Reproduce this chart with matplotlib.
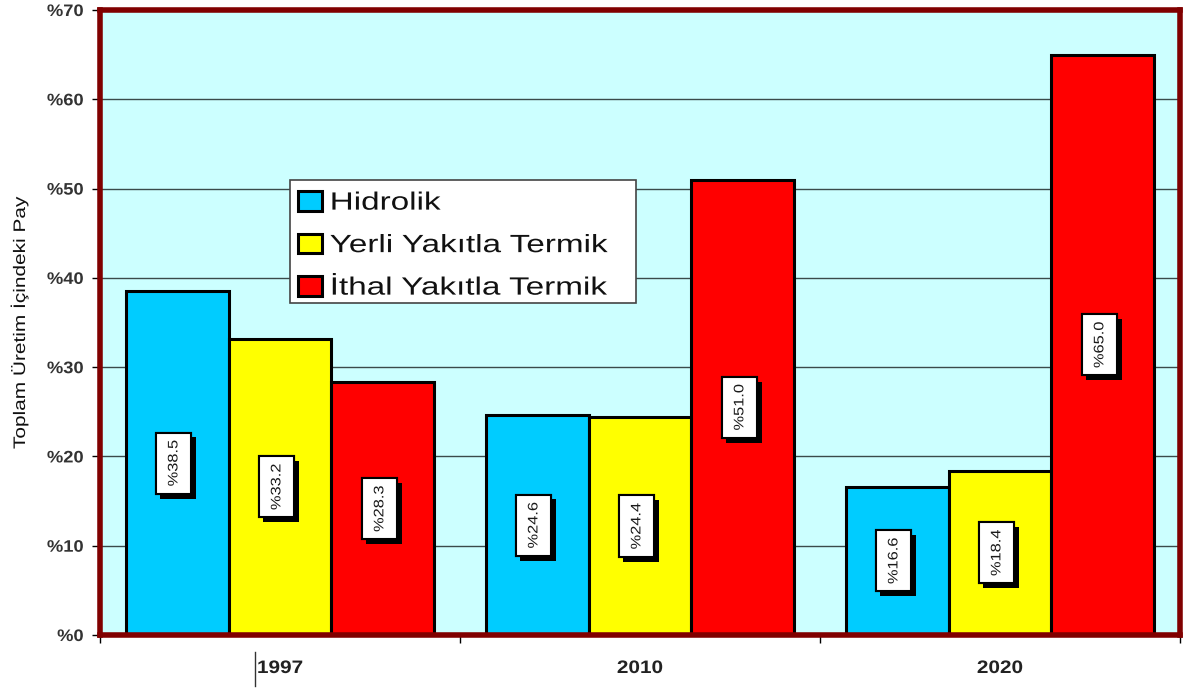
import matplotlib
matplotlib.use("Agg")
import matplotlib.pyplot as plt
import matplotlib.transforms as mtransforms
from matplotlib.patheffects import AbstractPathEffect, withSimplePatchShadow, Normal
from matplotlib.patches import Rectangle
from matplotlib.lines import Line2D
import numpy as np

plt.rcParams['font.family'] = ['Liberation Sans', 'DejaVu Sans']

years = ["1997", "2010", "2020"]
series_names = ["Hidrolik", "Yerli Yakıtla Termik", "İthal Yakıtla Termik"]
hidrolik = [38.5, 24.6, 16.6]
yerli = [33.2, 24.4, 18.4]
ithal = [28.3, 51.0, 65.0]
colors = ["#00CCFF", "#FFFF00", "#FF0000"]
yticks = [0, 10, 20, 30, 40, 50, 60, 70]


class XStretch(AbstractPathEffect):
    """Widen text along its baseline (imitates the letter-spaced original)."""
    def __init__(self, sx, anchor='left'):
        super().__init__()
        self.sx = sx
        self.anchor = anchor

    def draw_path(self, renderer, gc, tpath, affine, rgbFace=None):
        ext = tpath.get_extents()
        if self.anchor == 'left':
            a = 0.0
        elif self.anchor == 'right':
            a = ext.x1
        else:
            a = 0.5 * (ext.x0 + ext.x1)
        t = mtransforms.Affine2D().translate(-a, 0).scale(self.sx, 1).translate(a, 0) + affine
        renderer.draw_path(gc, tpath, t, rgbFace)


fig = plt.figure(figsize=(11.92, 6.90), dpi=100)
ax = fig.add_axes([100/1192, 55/690, 1080/1192, 625/690])
ax.set_facecolor("#CCFFFF")

x = np.arange(len(years))
w = 0.286
series = [hidrolik, yerli, ithal]
for i, (vals, c, name) in enumerate(zip(series, colors, series_names)):
    pos = x + (i - 1) * w
    ax.bar(pos, vals, width=w, color=c, edgecolor="black", linewidth=2.2,
           label=name, zorder=2)
    for px, v in zip(pos, vals):
        txt = "%" + f"{v:.1f}"
        t = ax.text(px - 0.01, v / 2, txt, rotation=90, ha='center', va='center',
                    fontsize=10, color='#1a1a1a', zorder=4,
                    bbox=dict(boxstyle='square,pad=0.78', facecolor='white',
                              edgecolor='black', linewidth=1.5))
        t.set_path_effects([XStretch(1.18, 'center')])
        t.get_bbox_patch().set_path_effects([
            withSimplePatchShadow(offset=(3.5, -3.5), shadow_rgbFace='black', alpha=1.0),
            Normal()])

ax.set_xlim(-0.5, 2.5)
ax.set_ylim(0, 70)
ax.set_yticks(yticks)
ylabels = ax.set_yticklabels(["%" + str(t) for t in yticks], fontsize=12,
                             fontweight='bold', color='#333333')
for lbl in ylabels:
    lbl.set_path_effects([XStretch(1.1, 'right')])
ax.yaxis.grid(True, color='#3A4A4A', linewidth=1.0)
ax.set_axisbelow(True)

ax.set_xticks([-0.5, 0.5, 1.5, 2.5])
ax.set_xticklabels([])
ax.set_xticks(x, minor=True)
xlabels = ax.set_xticklabels(years, minor=True, fontsize=13, fontweight='bold', color='#222222')
for lbl in xlabels:
    lbl.set_path_effects([XStretch(1.15, 'center')])
ax.tick_params(axis='x', which='minor', length=0, pad=18)
ax.tick_params(axis='x', which='major', length=6, width=1, direction='out')
ax.tick_params(axis='y', length=6, width=1, direction='out', pad=6)

for s in ax.spines.values():
    s.set_color('#800000')
    s.set_linewidth(4)
    s.set_zorder(5)

ax.set_ylabel("Toplam Üretim İçindeki Pay", fontsize=12, color='#111111', labelpad=16)
ax.yaxis.label.set_path_effects([XStretch(1.25, 'center')])

# legend frame (drawn separately so it can match the wide, letter-spaced original)
frame = Rectangle((0.176, 0.531), 0.3205, 0.197, transform=ax.transAxes,
                  facecolor='white', edgecolor='#444444', linewidth=1.2, zorder=6)
ax.add_patch(frame)
leg = ax.legend(loc='upper left', bbox_to_anchor=(0.1833, 0.711), fontsize=18,
                frameon=False, borderpad=0, handlelength=0.95, handleheight=0.8,
                handletextpad=0.32, labelspacing=0.74, borderaxespad=0)
leg.set_zorder(7)
for t in leg.get_texts():
    t.set_color('#111111')
    t.set_path_effects([XStretch(1.33, 'left')])

# small vertical stroke next to the first category label, as in the original
fig.add_artist(Line2D([255/1192, 255/1192], [1 - 652/690, 1 - 686/690],
                      color='#333333', linewidth=1))

fig.savefig("out.png", dpi=100, facecolor='white')
